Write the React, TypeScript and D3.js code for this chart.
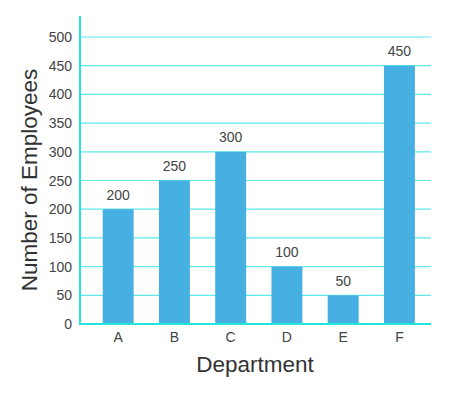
import React, { useEffect, useRef } from 'react';
import * as d3 from 'd3';

const departments = ['A', 'B', 'C', 'D', 'E', 'F'];
const employees = [200, 250, 300, 100, 50, 450];
const yTicks = [0, 50, 100, 150, 200, 250, 300, 350, 400, 450, 500];

export default function App() {
    const ref = useRef<SVGSVGElement>(null);

    useEffect(() => {
        const svg = d3.select(ref.current);
        svg.selectAll('*').remove();

        const left = 80, right = 431, top = 37, bottom = 324;
        const font = 'Liberation Sans, Arial, sans-serif';

        const x = d3.scaleBand<string>()
            .domain(departments)
            .range([left, right])
            .paddingInner(0.45)
            .paddingOuter(0.345)
            .align(0.585);

        const y = d3.scaleLinear()
            .domain([0, 500])
            .range([bottom, top]);

        // gridlines
        svg.append('g')
            .selectAll('line')
            .data(yTicks.filter(t => t > 0))
            .enter()
            .append('line')
            .attr('x1', left)
            .attr('x2', right)
            .attr('y1', d => y(d))
            .attr('y2', d => y(d))
            .attr('stroke', '#5ee8e8')
            .attr('stroke-width', 1.2);

        // y tick labels
        svg.append('g')
            .selectAll('text')
            .data(yTicks)
            .enter()
            .append('text')
            .attr('x', 72)
            .attr('y', d => y(d) + 5)
            .attr('text-anchor', 'end')
            .attr('font-family', font)
            .attr('font-size', 14)
            .attr('fill', '#444')
            .text(d => d);

        // bars
        svg.append('g')
            .selectAll('rect')
            .data(employees)
            .enter()
            .append('rect')
            .attr('x', (d, i) => x(departments[i]) as number)
            .attr('y', d => y(d))
            .attr('width', x.bandwidth())
            .attr('height', d => bottom - y(d))
            .attr('fill', '#47b0e3');

        // value labels
        svg.append('g')
            .selectAll('text')
            .data(employees)
            .enter()
            .append('text')
            .attr('x', (d, i) => (x(departments[i]) as number) + x.bandwidth() / 2)
            .attr('y', d => y(d) - 9.5)
            .attr('text-anchor', 'middle')
            .attr('font-family', font)
            .attr('font-size', 14)
            .attr('fill', '#444')
            .text(d => d);

        // x tick labels
        svg.append('g')
            .selectAll('text')
            .data(departments)
            .enter()
            .append('text')
            .attr('x', d => (x(d) as number) + x.bandwidth() / 2)
            .attr('y', 342)
            .attr('text-anchor', 'middle')
            .attr('font-family', font)
            .attr('font-size', 14)
            .attr('fill', '#444')
            .text(d => d);

        // axes lines
        svg.append('line')
            .attr('x1', left).attr('x2', left)
            .attr('y1', 16).attr('y2', bottom + 1)
            .attr('stroke', '#22e6dc').attr('stroke-width', 2);
        svg.append('line')
            .attr('x1', left).attr('x2', right)
            .attr('y1', bottom).attr('y2', bottom)
            .attr('stroke', '#22e6dc').attr('stroke-width', 2);

        // axis titles
        svg.append('text')
            .attr('x', 255)
            .attr('y', 372)
            .attr('text-anchor', 'middle')
            .attr('font-family', font)
            .attr('font-size', 22.5)
            .attr('fill', '#333')
            .text('Department');

        svg.append('text')
            .attr('transform', 'translate(37,180) rotate(-90)')
            .attr('text-anchor', 'middle')
            .attr('font-family', font)
            .attr('font-size', 22.5)
            .attr('fill', '#333')
            .text('Number of Employees');
    }, []);

    return (
        <svg ref={ref} width={452} height={394}
            style={{ position: 'absolute', left: 0, top: 0, background: '#fff' }} />
    );
}
